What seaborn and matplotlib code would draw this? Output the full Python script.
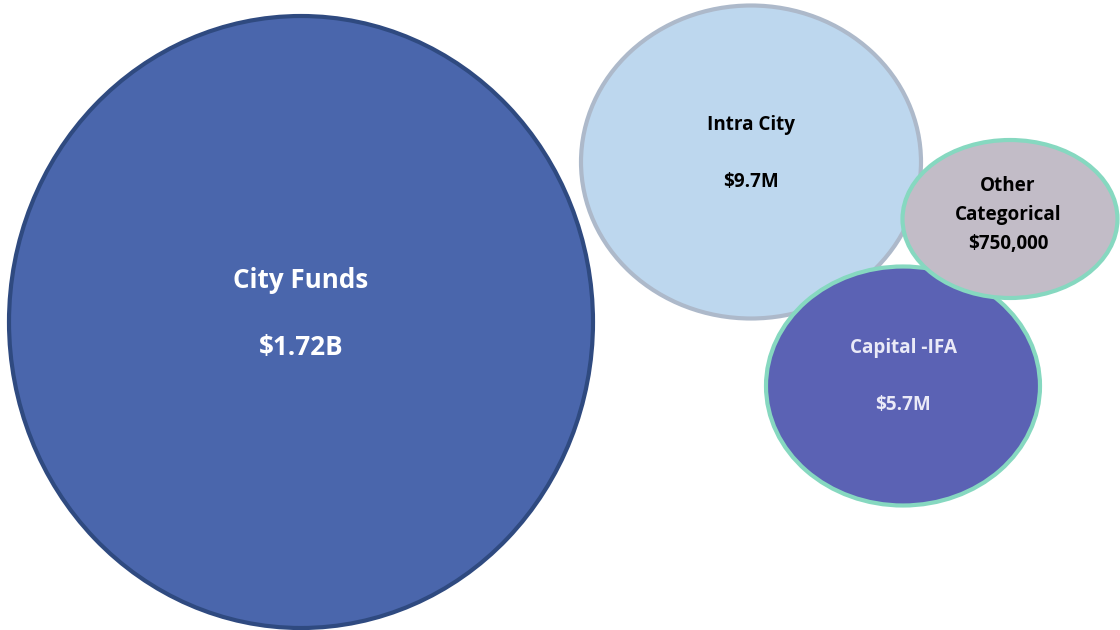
import matplotlib
matplotlib.use("Agg")
import matplotlib.pyplot as plt
from matplotlib.patches import Ellipse
import seaborn as sns

sns.set_theme(style="white")
plt.rcParams['font.family'] = ['Open Sans', 'DejaVu Sans']

# Data
categories = ["City Funds", "Intra City", "Capital -IFA", "Other\nCategorical"]
amounts = ["$1.72B", "$9.7M", "$5.7M", "$750,000"]

# Layout (pixel coordinates, y down)
centers = [(301, 322), (751, 162), (903, 386), (1010, 219)]
sizes = [(584, 612), (340, 313), (274, 239), (215, 158)]
fills = ["#4A66AC", "#BDD7EE", "#5B62B4", "#C2BCC7"]
edges = ["#2F4A80", "#ADB9CA", "#86D8C0", "#86D8C0"]
text_colors = ["white", "black", "#EAEAF7", "black"]
font_sizes = [18.7, 13.6, 13.6, 13.6]
label_offsets = [(-42, 25), (-37, 20), (-38, 19), None]

fig = plt.figure(figsize=(11.2, 6.3), dpi=100)
ax = fig.add_axes([0, 0, 1, 1])
ax.set_xlim(0, 1120)
ax.set_ylim(630, 0)
ax.set_axis_off()

for i, cat in enumerate(categories):
    cx, cy = centers[i]
    w, h = sizes[i]
    ax.add_patch(Ellipse((cx, cy), w, h, facecolor=fills[i], edgecolor=edges[i],
                         linewidth=3.0, zorder=1 + i))
    if label_offsets[i] is None:
        ax.text(cx - 2, cy - 4, cat + "\n" + amounts[i], ha="center", va="center",
                color=text_colors[i], fontsize=font_sizes[i], fontweight="bold",
                linespacing=1.62, zorder=10)
    else:
        up, down = label_offsets[i]
        ax.text(cx, cy + up, cat, ha="center", va="center", color=text_colors[i],
                fontsize=font_sizes[i], fontweight="bold", zorder=10)
        ax.text(cx, cy + down, amounts[i], ha="center", va="center", color=text_colors[i],
                fontsize=font_sizes[i], fontweight="bold", zorder=10)

fig.savefig("out.png", dpi=100, facecolor="white")
